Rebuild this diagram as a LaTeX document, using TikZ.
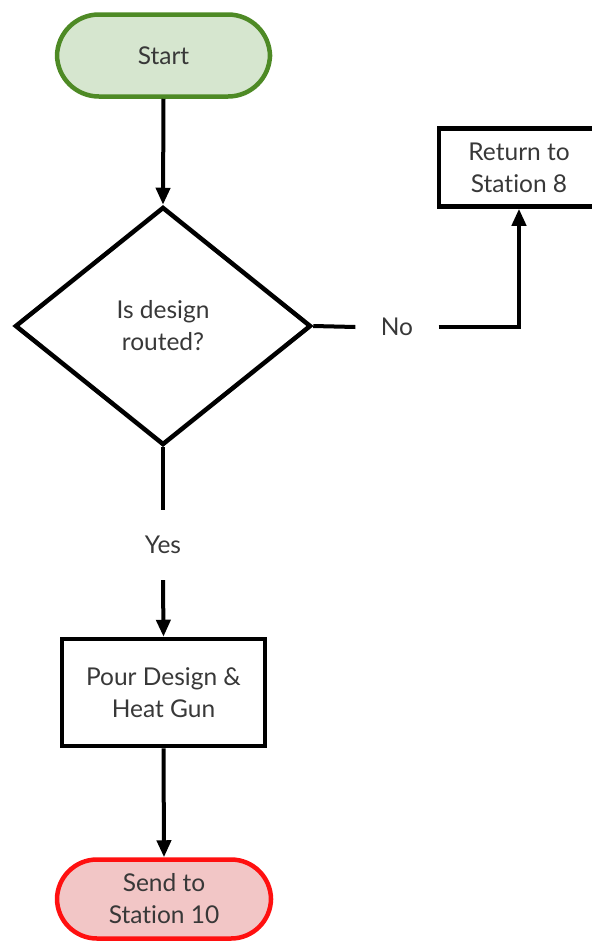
\documentclass[tikz,border=0pt]{standalone}
\usepackage{fontspec}
\setmainfont{Lato}[Ligatures={NoCommon}]
\usetikzlibrary{shapes.geometric,arrows.meta}
\definecolor{gborder}{HTML}{4E8A25}
\definecolor{gfill}{HTML}{D6E6CF}
\definecolor{rborder}{HTML}{FF1010}
\definecolor{rfill}{HTML}{F2C6C6}
\definecolor{txt}{HTML}{383838}
\tikzset{
  base/.style={draw=black, line width=4.5pt, font=\fontsize{24.5}{32}\selectfont, text=txt, align=center, inner sep=0pt},
  term/.style={base, rectangle, rounded corners=42pt},
  procbox/.style={base, rectangle},
  decis/.style={base, diamond},
  lbl/.style={font=\fontsize{24.5}{32}\selectfont, text=txt, inner sep=0pt},
  conn/.style={line width=4pt, draw=black},
  arr/.style={conn, -{Triangle[width=14pt,length=17pt]}},
}
\begin{document}
\begin{tikzpicture}[x=1pt,y=-1pt]
\useasboundingbox (0,0) rectangle (592,943);
\clip (0,0) rectangle (592,943);
\node[term, draw=gborder, fill=gfill, minimum width=213pt, minimum height=82pt] (start) at (163.5,55.5) {Start};
\node[decis, minimum width=296pt, minimum height=238pt] (dec) at (163,326) {Is design\\routed?};
\node[procbox, minimum width=160pt, minimum height=78pt] (ret) at (519,167.5) {Return to\\Station 8};
\node[procbox, minimum width=203pt, minimum height=107pt] (pour) at (163.5,692.5) {Pour Design \&\\Heat Gun};
\node[term, draw=rborder, fill=rfill, minimum width=214pt, minimum height=79pt, rounded corners=40pt] (send) at (164,899) {Send to\\Station 10};
\node[lbl, minimum width=83pt] (no) at (397,327) {No};
\node[lbl, minimum height=70pt] (yes) at (163,545) {Yes};
\draw[arr] (start.south) -- (dec.north);
\draw[conn] (dec.east) -- (no.west);
\draw[arr] (no.east) -| (ret.south);
\draw[conn] (dec.south) -- (yes.north);
\draw[arr] (yes.south) -- (pour.north);
\draw[arr] (pour.south) -- (send.north);
\end{tikzpicture}
\end{document}
